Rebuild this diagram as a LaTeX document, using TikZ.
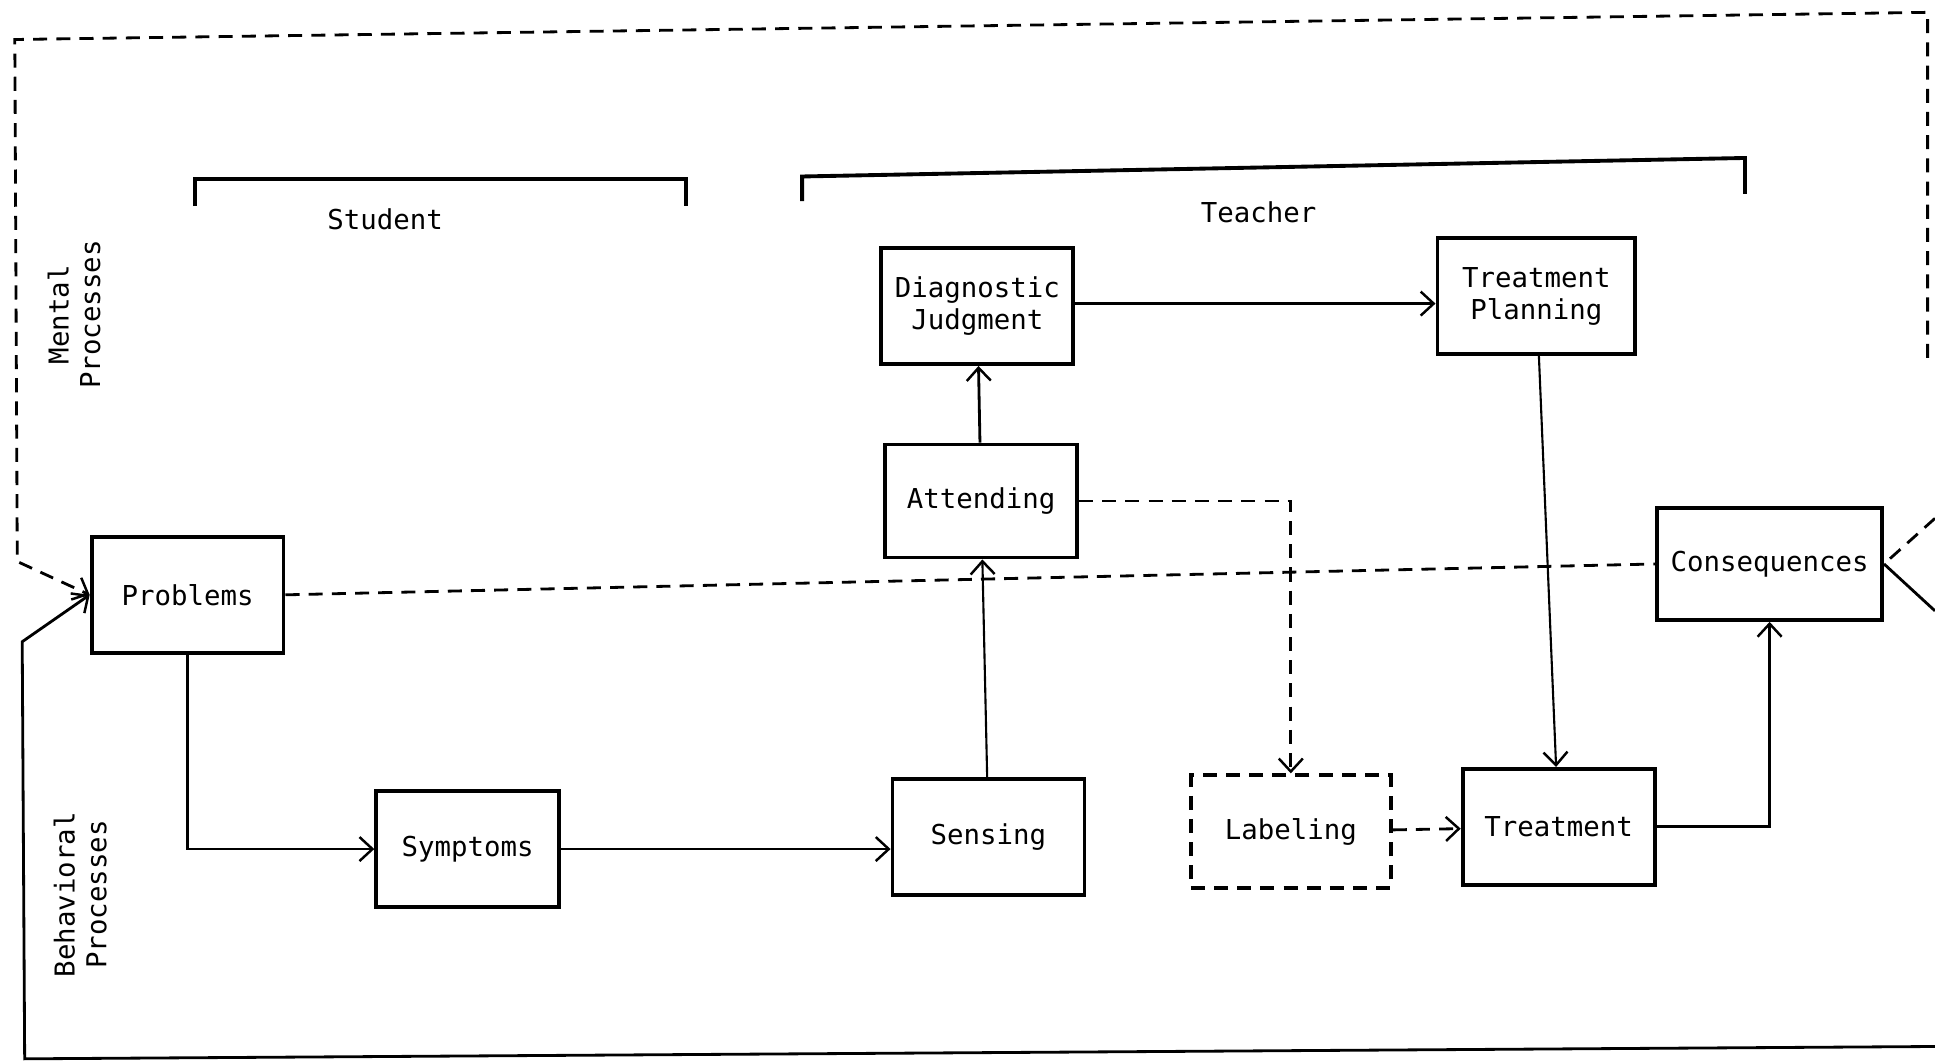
\documentclass[tikz,border=0pt]{standalone}
\usepackage{fontspec}
\setmonofont{DejaVu Sans Mono}
\usetikzlibrary{arrows.meta, positioning, calc}

\begin{document}
\begin{tikzpicture}[x=0.01234cm, y=-0.01234cm,
            caja/.style={rectangle, draw, line width=1.1pt, minimum width=1.92cm, minimum height=1.16cm, inner sep=2pt, align=center, font=\ttfamily\fontsize{7.8}{9}\selectfont},
            rotulo/.style={align=center, font=\ttfamily\fontsize{7.8}{9}\selectfont},
            flecha/.style={-{Straight Barb[length=1.3mm, width=2.4mm, line width=0.7pt]}, line width=0.8pt},
            trazo/.style={dash pattern=on 4pt off 2.6pt}]

            \useasboundingbox (0,0) rectangle (1568,861);
            \fill[white] (0,0) rectangle (1568,861);

            % brackets and headings
            \draw[line width=1.1pt] (158,167) -- (158,145) -- (556,145) -- (556,167);
            \draw[line width=1.1pt] (650,163) -- (650,143) -- (1414,128) -- (1414,157);
            \node[rotulo] (stud) at (312,178) {Student};
            \node[rotulo] (teach) at (1020,172) {Teacher};
            \node[rotulo, rotate=90] (ment) at (60,255) {Mental\\Processes};
            \node[rotulo, rotate=90] (behav) at (65,725) {Behavioral\\Processes};

            % boxes
            \node[caja] (diag) at (792,248) {Diagnostic\\Judgment};
            \node[caja, minimum width=1.98cm] (plan) at (1245,240) {Treatment\\Planning};
            \node[caja, minimum height=1.13cm] (att) at (795,406) {Attending};
            \node[caja] (prob) at (152,482) {Problems};
            \node[caja, minimum width=2.25cm, minimum height=1.12cm] (cons) at (1434,457) {Consequences};
            \node[caja, minimum width=1.83cm] (symp) at (379,688) {Symptoms};
            \node[caja] (sens) at (801,678) {Sensing};
            \node[caja, trazo, minimum width=2cm, minimum height=1.13cm] (lab) at (1046,674) {Labeling};
            \node[caja] (treat) at (1263,670) {Treatment};

            % frame corners
            \coordinate (tl) at (12,32);
            \coordinate (tr) at (1562,10);
            \coordinate (rt) at (1562,290);
            \coordinate (ld) at (14,455);
            \coordinate (ls) at (18,520);
            \coordinate (bl) at (20,858);
            \coordinate (br) at (1568,848);
            \coordinate (rd) at (1568,420);
            \coordinate (rs) at (1568,495);
            \coordinate (dj) at ($(diag.east)+(0,-2)$);

            % connectors
            \draw[flecha] (dj) -- (dj -| plan.west);
            \draw[flecha] (att) -- (diag);
            \draw[flecha, line width=0.6pt] (sens) -- (att);
            \draw[flecha] (prob.south) |- (symp.west);
            \draw[flecha] (symp.east) -- (symp.east -| sens.west);
            \draw[flecha, trazo] (att.east) -| (lab.north);
            \draw[flecha, trazo] (lab) -- (treat);
            \draw[flecha, line width=0.6pt] (plan) -- (treat);
            \draw[flecha] (treat.east) -| (cons.south);
            \draw[trazo, line width=0.8pt] (prob.east) -- (cons.west);

            % feedback frame
            \draw[flecha, trazo] (rt) -- (tr) -- (tl) -- (ld) -- (prob.west);
            \draw[flecha] (br) -- (bl) -- (ls) -- (prob.west);
            \draw[trazo, line width=0.8pt] (rd) -- (cons.east);
            \draw[line width=0.8pt] (rs) -- (cons.east);
        \end{tikzpicture}
\end{document}
